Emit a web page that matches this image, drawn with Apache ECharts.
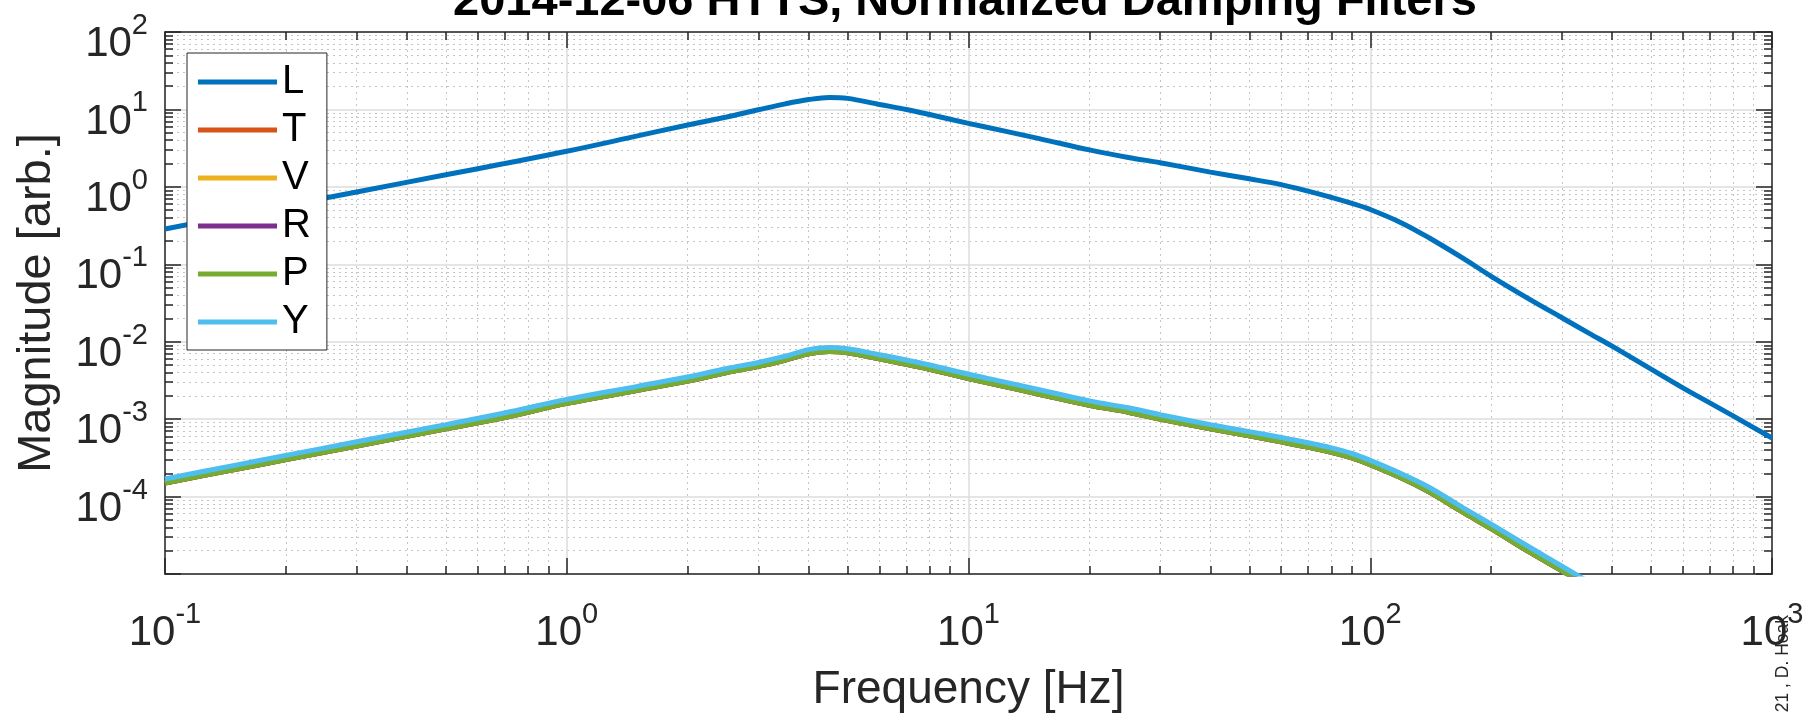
<!DOCTYPE html>
<html>
<head>
<meta charset="utf-8">
<title>2014-12-06 HTTS, Normalized Damping Filters</title>
<script src="https://cdn.jsdelivr.net/npm/echarts@6/dist/echarts.min.js"></script>
<style>
  html, body { margin: 0; padding: 0; background: #fff; }
  #chart { width: 1807px; height: 713px; }
</style>
</head>
<body>
<div id="chart"></div>
<script>
// frequency points [Hz]
const freq = [0.1, 0.15, 0.2, 0.3, 0.5, 0.7, 1, 1.5, 2, 2.5, 3, 3.5, 4, 4.5, 5, 6, 7, 8, 10, 12, 15, 20,
  25, 30, 40, 50, 60, 70, 80, 90, 100, 120, 140, 170, 200, 250, 300, 350, 400, 500, 600, 700, 800, 1000]

// magnitudes
const magL = [0.286, 0.43, 0.572, 0.86, 1.43, 2.0, 2.88, 4.55, 6.3, 8.0, 9.9, 11.8, 13.4, 14.3, 13.9, 11.6,
  10.0, 8.6, 6.6, 5.4, 4.2, 3.0, 2.4, 2.05, 1.55, 1.27, 1.07, 0.88, 0.73, 0.61, 0.51, 0.34, 0.22, 0.12,
  0.07, 0.035, 0.0204, 0.0129, 0.00875, 0.00443, 0.00254, 0.00162, 0.0011, 0.00057]
const magP = [1.5e-4, 2.25e-4, 3.0e-4, 4.5e-4, 7.5e-4, 1.05e-3, 1.6e-3, 2.35e-3, 3.1e-3, 4.0e-3, 4.8e-3,
  5.8e-3, 7.0e-3, 7.45e-3, 7.2e-3, 6.0e-3, 5.1e-3, 4.4e-3, 3.35e-3, 2.72e-3, 2.1e-3, 1.51e-3, 1.23e-3,
  1.0e-3, 7.5e-4, 6.1e-4, 5.1e-4, 4.35e-4, 3.72e-4, 3.15e-4, 2.58e-4, 1.72e-4, 1.15e-4, 6.3e-5, 3.85e-5,
  1.9e-5, 1.1e-5, 6.9e-6, 4.5e-6, 2.3e-6, 1.3e-6, 8e-7, 5.5e-7, 2.8e-7]
const magY = [1.69e-4, 2.55e-4, 3.4e-4, 5.1e-4, 8.5e-4, 1.2e-3, 1.8e-3, 2.65e-3, 3.5e-3, 4.5e-3, 5.4e-3,
  6.5e-3, 7.9e-3, 8.4e-3, 8.1e-3, 6.8e-3, 5.8e-3, 5.0e-3, 3.8e-3, 3.1e-3, 2.4e-3, 1.72e-3, 1.4e-3,
  1.14e-3, 8.5e-4, 6.9e-4, 5.8e-4, 4.95e-4, 4.25e-4, 3.6e-4, 2.93e-4, 1.95e-4, 1.32e-4, 7.2e-5, 4.4e-5,
  2.2e-5, 1.26e-5, 7.9e-6, 5.2e-6, 2.6e-6, 1.5e-6, 9e-7, 6.3e-7, 3.2e-7]
// T, V and R lie under P and Y in the original
const magT = magP
const magV = magP
const magR = magP

const seriesNames = ['L', 'T', 'V', 'R', 'P', 'Y']
const seriesValues = [magL, magT, magV, magR, magP, magY]
const seriesColors = ['#0072BD', '#D95319', '#EDB120', '#7E2F8E', '#77AC30', '#4DBEEE']

// axis ticks
const xMajor = [0.1, 1, 10, 100, 1000]
const yMajor = [1e-5, 1e-4, 1e-3, 1e-2, 1e-1, 1, 10, 100]
const yLabels = [1e-4, 1e-3, 1e-2, 1e-1, 1, 10, 100]

function minorTicks(decades) {
  const out = []
  decades.forEach(d => {
    for (let k = 2; k <= 9; k++) out.push(+(k * d).toPrecision(3))
  })
  return out
}
const xMinor = minorTicks([0.1, 1, 10, 100])
const yMinor = minorTicks([1e-5, 1e-4, 1e-3, 1e-2, 1e-1, 1, 10])

const font = "'Liberation Sans', Arial, sans-serif"
const axisColor = '#262626'

const labelRich = {
  b: { fontSize: 42, lineHeight: 42, fontFamily: font, color: axisColor, verticalAlign: 'bottom' },
  s: { fontSize: 29, lineHeight: 29, fontFamily: font, color: axisColor, verticalAlign: 'bottom', padding: [0, 0, 25, 0] }
}
function decadeLabel(v) {
  const e = Math.round(Math.log10(v))
  return '{b|10}{s|' + e + '}'
}

const tickStyle = { color: axisColor, width: 1.5 }

function majorAxis(extra) {
  return Object.assign({
    type: 'log',
    logBase: 10,
    axisLine: { show: true, onZero: false, lineStyle: { color: axisColor, width: 1.5 } },
    axisTick: { show: true, inside: true, length: 16, lineStyle: tickStyle },
    axisLabel: { show: false },
    splitLine: { show: false }
  }, extra)
}
function minorAxis(extra) {
  return Object.assign({
    type: 'log',
    logBase: 10,
    axisLine: { show: false },
    axisTick: { show: true, inside: true, length: 8, lineStyle: tickStyle },
    axisLabel: { show: false },
    splitLine: { show: false }
  }, extra)
}

const xRange = { min: 0.1, max: 1000 }
const yRange = { min: 1e-5, max: 100 }

const xAxis = [
  majorAxis(Object.assign({
    position: 'bottom',
    axisTick: { show: true, inside: true, length: 16, customValues: xMajor, lineStyle: tickStyle },
    axisLabel: {
      show: true, customValues: xMajor, margin: 38, formatter: decadeLabel, rich: labelRich,
      showMinLabel: true, showMaxLabel: true, hideOverlap: false
    },
    splitLine: { show: true, lineStyle: { color: '#dcdcdc', width: 1.5 } },
    name: 'Frequency [Hz]',
    nameLocation: 'middle',
    nameGap: 93,
    nameTextStyle: { fontSize: 46, fontFamily: font, color: axisColor }
  }, xRange)),
  minorAxis(Object.assign({
    position: 'bottom',
    axisTick: { show: true, inside: true, length: 8, customValues: xMinor, lineStyle: tickStyle },
    splitLine: { show: true, lineStyle: { color: '#c6c6c6', width: 1, type: [2, 4] } }
  }, xRange)),
  majorAxis(Object.assign({
    position: 'top',
    axisTick: { show: true, inside: true, length: 16, customValues: xMajor, lineStyle: tickStyle }
  }, xRange)),
  minorAxis(Object.assign({
    position: 'top',
    axisTick: { show: true, inside: true, length: 8, customValues: xMinor, lineStyle: tickStyle }
  }, xRange))
]

const yAxis = [
  majorAxis(Object.assign({
    position: 'left',
    axisTick: { show: true, inside: true, length: 16, customValues: yMajor, lineStyle: tickStyle },
    axisLabel: {
      show: true, customValues: yLabels, margin: 17, formatter: decadeLabel, rich: labelRich,
      padding: [25, 0, 0, 0],
      showMinLabel: true, showMaxLabel: true, hideOverlap: false
    },
    splitLine: { show: true, lineStyle: { color: '#dcdcdc', width: 1.5 } },
    name: 'Magnitude [arb.]',
    nameLocation: 'middle',
    nameGap: 104,
    nameTextStyle: { fontSize: 47, fontFamily: font, color: axisColor }
  }, yRange)),
  minorAxis(Object.assign({
    position: 'left',
    axisTick: { show: true, inside: true, length: 8, customValues: yMinor, lineStyle: tickStyle },
    splitLine: { show: true, lineStyle: { color: '#c6c6c6', width: 1, type: [2, 4] } }
  }, yRange)),
  majorAxis(Object.assign({
    position: 'right',
    axisTick: { show: true, inside: true, length: 16, customValues: yMajor, lineStyle: tickStyle }
  }, yRange)),
  minorAxis(Object.assign({
    position: 'right',
    axisTick: { show: true, inside: true, length: 8, customValues: yMinor, lineStyle: tickStyle }
  }, yRange))
]

const series = seriesNames.map((name, i) => ({
  name,
  type: 'line',
  xAxisIndex: 0,
  yAxisIndex: 0,
  data: freq.map((f, j) => [f, seriesValues[i][j]]),
  color: seriesColors[i],
  lineStyle: { width: 5, color: seriesColors[i] },
  showSymbol: false,
  symbol: 'none',
  smooth: 0.35,
  clip: true,
  z: 3 + i
}))

const myChart = echarts.init(document.getElementById('chart'), null, { renderer: 'canvas' })
myChart.setOption({
  animation: false,
  backgroundColor: '#fff',
  grid: { left: 165, right: 35, top: 32, bottom: 139, containLabel: false, outerBoundsMode: 'none' },
  legend: {
    orient: 'vertical',
    left: 187,
    top: 53,
    icon: 'rect',
    itemWidth: 79,
    itemHeight: 5,
    itemGap: 8,
    padding: [9, 16, 8, 11],
    backgroundColor: '#fff',
    borderColor: axisColor,
    borderWidth: 1,
    borderRadius: 0,
    textStyle: { fontSize: 40, lineHeight: 40, fontFamily: font, color: '#000' },
    data: seriesNames
  },
  xAxis,
  yAxis,
  series,
  graphic: [
    {
      type: 'text',
      x: 965,
      y: 2,
      z: 10,
      style: {
        text: '2014-12-06 HTTS, Normalized Damping Filters',
        font: "bold 47px 'Liberation Sans', Arial, sans-serif",
        fill: '#000',
        align: 'center',
        verticalAlign: 'middle'
      }
    },
    {
      type: 'text',
      x: 1783,
      y: 615,
      rotation: Math.PI / 2,
      z: 10,
      style: {
        text: '2021 , D. Hoak',
        font: "17.5px 'Liberation Sans', Arial, sans-serif",
        fill: '#262626',
        align: 'right',
        verticalAlign: 'middle'
      }
    }
  ]
})
</script>
</body>
</html>
